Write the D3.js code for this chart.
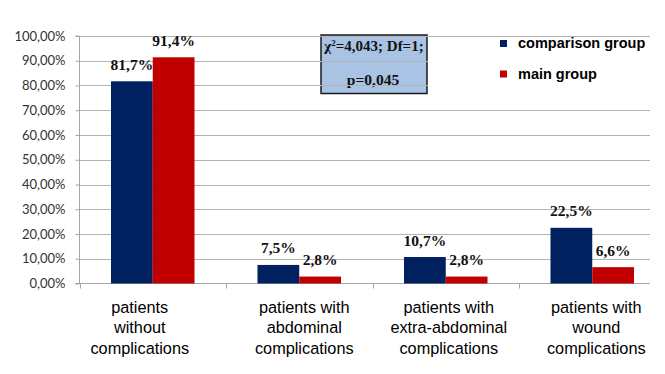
<!DOCTYPE html>
<html>
<head>
<meta charset="utf-8">
<script src="https://cdn.jsdelivr.net/npm/d3@7"></script>
<style>
  body { margin: 0; background: #fff; }
  svg { display: block; }
</style>
</head>
<body>
<div id="chart"></div>
<script>
// data
var categories = [
  ["patients", "without", "complications"],
  ["patients with", "abdominal", "complications"],
  ["patients with", "extra-abdominal", "complications"],
  ["patients with", "wound", "complications"]
];
var seriesNames = ["comparison group", "main group"];
var comparisonGroup = [81.7, 7.5, 10.7, 22.5];
var mainGroup = [91.4, 2.8, 2.8, 6.6];
var yTicks = [0, 10, 20, 30, 40, 50, 60, 70, 80, 90, 100];
var statLines = ["=4,043; Df=1;", "p=0,045"];

var colors = ["#002060", "#c00000"];
var width = 665, height = 374;

var svg = d3.select("#chart").append("svg")
    .attr("width", width)
    .attr("height", height);

svg.append("rect").attr("width", width).attr("height", height).attr("fill", "#fff");

// scales
var x0 = d3.scaleBand()
    .domain(d3.range(categories.length))
    .range([79.5, 665.5])
    .paddingInner(0.43)
    .paddingOuter(0.215);
var x1 = d3.scaleBand()
    .domain([0, 1])
    .range([0, x0.bandwidth()]);
var y = d3.scaleLinear()
    .domain([0, 100])
    .range([283.5, 36]);

var gridRight = 650;

// stats box (behind the grid lines)
var box = svg.append("g");
box.append("rect")
    .attr("x", 321).attr("y", 35)
    .attr("width", 106).attr("height", 58.5)
    .attr("fill", "#a9c3e4")
    .attr("stroke", "#1a1a1a")
    .attr("stroke-width", 1.5);
var t1 = box.append("text")
    .attr("x", 374).attr("y", 51)
    .attr("text-anchor", "middle")
    .style("font-family", "'Liberation Serif', 'Times New Roman', serif")
    .style("font-weight", "bold")
    .style("font-size", "15px")
    .attr("fill", "#111");
t1.append("tspan").text("\u03c7");
t1.append("tspan").attr("dy", -5).style("font-size", "9px").text("2");
t1.append("tspan").attr("dy", 5).text(statLines[0]);
box.append("text")
    .attr("x", 373).attr("y", 85)
    .attr("text-anchor", "middle")
    .style("font-family", "'Liberation Serif', 'Times New Roman', serif")
    .style("font-weight", "bold")
    .style("font-size", "15.5px")
    .attr("fill", "#111")
    .text(statLines[1]);

// grid lines
svg.append("g").selectAll("line")
    .data(yTicks.filter(function(d) { return d > 0; }))
    .enter().append("line")
    .attr("x1", 79.5).attr("x2", gridRight)
    .attr("y1", function(d) { return Math.round(y(d)) + 0.5; })
    .attr("y2", function(d) { return Math.round(y(d)) + 0.5; })
    .attr("stroke", "#b3b3b3")
    .attr("stroke-width", 1);

// legend (white backing hides grid lines)
var legend = svg.append("g");
legend.append("rect")
    .attr("x", 428).attr("y", 38)
    .attr("width", 237).attr("height", 64)
    .attr("fill", "#fff");
seriesNames.forEach(function(name, i) {
    var ly = 40 + i * 30.5;
    legend.append("rect")
        .attr("x", 500).attr("y", ly)
        .attr("width", 7).attr("height", 7)
        .attr("fill", colors[i]);
    legend.append("text")
        .attr("x", 518).attr("y", ly + 8)
        .style("font-family", "'Liberation Sans', Arial, sans-serif")
        .style("font-weight", "bold")
        .style("font-size", "14.5px")
        .attr("fill", "#000")
        .text(name);
});

// y axis
var yAxis = svg.append("g")
    .attr("transform", "translate(79.5,0)")
    .call(d3.axisLeft(y)
        .tickValues(yTicks)
        .tickSize(4)
        .tickPadding(10)
        .tickFormat(function(d) { return d3.format(".2f")(d).replace(".", ",") + "%"; }));
yAxis.select(".domain").attr("stroke", "#a6a6a6").attr("d", "M-4," + y(0) + "H0V" + y(100) + "H-4");
yAxis.selectAll(".tick line").attr("stroke", "#a6a6a6");
yAxis.selectAll(".tick text")
    .style("font-family", "Lato, 'Open Sans', sans-serif")
    .style("font-size", "13px")
    .attr("fill", "#333");

// x axis
var xAxis = svg.append("g").attr("transform", "translate(0," + y(0) + ")");
xAxis.append("line")
    .attr("x1", 75.5).attr("x2", gridRight)
    .attr("stroke", "#a6a6a6");
var step = x0.step();
xAxis.selectAll(".xt")
    .data(d3.range(categories.length))
    .enter().append("line")
    .attr("class", "xt")
    .attr("x1", function(d) { return Math.round(x0(d) - step * 0.215) + 0.5; })
    .attr("x2", function(d) { return Math.round(x0(d) - step * 0.215) + 0.5; })
    .attr("y1", 0).attr("y2", 5)
    .attr("stroke", "#a6a6a6");

// category labels
var labelShift = [-13, 5, 3, 4];
var catLabels = svg.append("g").selectAll("text")
    .data(categories)
    .enter().append("text")
    .attr("text-anchor", "middle")
    .attr("transform", function(d, i) {
        return "translate(" + (x0(i) + x0.bandwidth() / 2 + labelShift[i]) + ",313)";
    })
    .style("font-family", "'Liberation Sans', Arial, sans-serif")
    .style("font-size", "16.3px")
    .attr("fill", "#000");
catLabels.selectAll("tspan")
    .data(function(d) { return d; })
    .enter().append("tspan")
    .attr("x", 0)
    .attr("y", function(d, j) { return j * 20.3; })
    .text(function(d) { return d; });

// bars
var rows = categories.map(function(c, i) { return [comparisonGroup[i], mainGroup[i]]; });
var groups = svg.append("g").selectAll("g")
    .data(rows)
    .enter().append("g")
    .attr("transform", function(d, i) { return "translate(" + x0(i) + ",0)"; });
groups.selectAll("rect")
    .data(function(d) { return d; })
    .enter().append("rect")
    .attr("x", function(d, j) { return x1(j); })
    .attr("width", x1.bandwidth())
    .attr("y", function(d) { return y(d); })
    .attr("height", function(d) { return y(0) - y(d); })
    .attr("fill", function(d, j) { return colors[j]; });
groups.selectAll("text")
    .data(function(d) { return d; })
    .enter().append("text")
    .attr("x", function(d, j) { return x1(j) + x1.bandwidth() / 2; })
    .attr("y", function(d) { return y(d) - 11.5; })
    .attr("text-anchor", "middle")
    .style("font-family", "'Liberation Serif', 'Times New Roman', serif")
    .style("font-weight", "bold")
    .style("font-size", "15.5px")
    .attr("fill", "#111")
    .text(function(d) { return d3.format(".1f")(d).replace(".", ",") + "%"; });
</script>
</body>
</html>
